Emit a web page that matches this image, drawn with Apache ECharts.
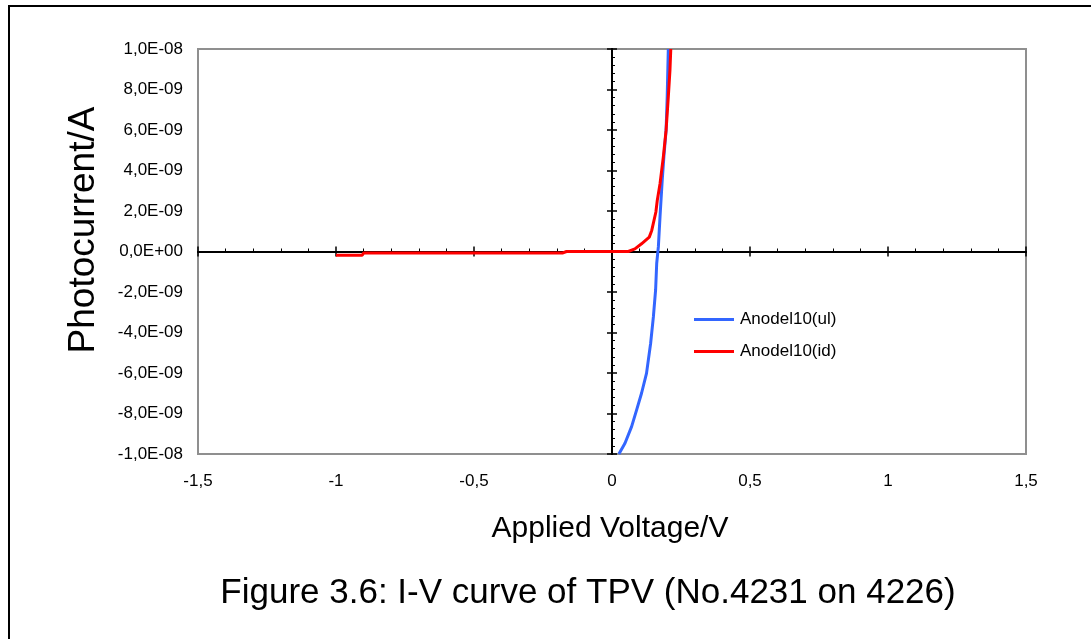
<!DOCTYPE html>
<html>
<head>
<meta charset="utf-8">
<script src="https://cdn.jsdelivr.net/npm/echarts@6/dist/echarts.min.js"></script>
<style>
html,body{margin:0;padding:0;background:#fff;}
#chart{width:1091px;height:639px;}
</style>
</head>
<body>
<div id="chart"></div>
<script>
// ---- data ----
var seriesNames = ['Anodel10(ul)', 'Anodel10(id)'];
// Anodel10(ul): voltage (V) and current (A)
var ulVoltage = [0.025, 0.047, 0.071, 0.089, 0.107, 0.125, 0.140, 0.150, 0.158, 0.162, 0.168, 0.174, 0.182, 0.188, 0.196, 0.200, 0.204];
var ulCurrent = [-1.0e-8, -9.47e-9, -8.65e-9, -7.83e-9, -7.0e-9, -6.02e-9, -4.53e-9, -3.22e-9, -1.90e-9, -0.58e-9, 0.24e-9, 1.72e-9, 3.53e-9, 4.68e-9, 6.0e-9, 7.64e-9, 1.0e-8];
// Anodel10(id): voltage (V) and current (A)
var idVoltage = [-1.0, -0.905, -0.9, -0.18, -0.165, 0.05, 0.059, 0.083, 0.107, 0.135, 0.144, 0.159, 0.164, 0.174, 0.186, 0.196, 0.204, 0.210, 0.213];
var idCurrent = [-0.18e-9, -0.18e-9, -0.08e-9, -0.08e-9, 0.0, 0.0, 0.0, 0.13e-9, 0.38e-9, 0.71e-9, 1.04e-9, 1.95e-9, 2.52e-9, 3.35e-9, 4.67e-9, 5.99e-9, 7.64e-9, 8.96e-9, 1.0e-8];
// axis tick labels
var xTickLabels = ['-1,5', '-1', '-0,5', '0', '0,5', '1', '1,5'];
var yTickLabels = ['-1,0E-08', '-8,0E-09', '-6,0E-09', '-4,0E-09', '-2,0E-09', '0,0E+00', '2,0E-09', '4,0E-09', '6,0E-09', '8,0E-09', '1,0E-08'];
var xMin = -1.5, xMax = 1.5, xStep = 0.5;
var yMin = -1.0e-8, yMax = 1.0e-8, yStep = 2.0e-9;
var xAxisTitle = 'Applied Voltage/V';
var yAxisTitle = 'Photocurrent/A';
var caption = 'Figure 3.6: I-V curve of TPV (No.4231 on 4226)';

// ---- chart ----
var FONT = "'Liberation Sans', Arial, sans-serif";
function pairs(xs, ys) { return xs.map(function (x, i) { return [x, ys[i]]; }); }
function xFmt(v) { return xTickLabels[Math.round((v - xMin) / xStep)]; }
function yFmt(v) { return yTickLabels[Math.round((v - yMin) / yStep)]; }

var chart = echarts.init(document.getElementById('chart'), null, { renderer: 'canvas' });

function baseX(extra) {
  var o = { type: 'value', min: xMin, max: xMax, interval: xStep, position: 'bottom', splitLine: { show: false } };
  for (var k in extra) o[k] = extra[k];
  return o;
}
function baseY(extra) {
  var o = { type: 'value', min: yMin, max: yMax, interval: yStep, position: 'left', splitLine: { show: false } };
  for (var k in extra) o[k] = extra[k];
  return o;
}

var lineIcon = 'path://M0,0 L40,0 L40,3 L0,3 Z';

var option = {
  animation: false,
  backgroundColor: '#ffffff',
  textStyle: { fontFamily: FONT },
  grid: {
    left: 198, top: 49, width: 828, height: 405,
    show: true, borderColor: '#8f8f8f', borderWidth: 2, backgroundColor: 'transparent'
  },
  xAxis: [
    baseX({
      axisLine: { show: false, onZero: false },
      axisTick: { show: false },
      axisLabel: { formatter: xFmt, fontSize: 17, color: '#000', margin: 19, fontFamily: FONT }
    }),
    baseX({
      axisLine: { show: true, onZero: true, onZeroAxisIndex: 0, lineStyle: { color: '#000', width: 2 } },
      axisTick: { show: true, inside: true, length: 5, lineStyle: { color: '#000', width: 1.5 } },
      minorTick: { show: true, splitNumber: 5, length: 3, lineStyle: { color: '#000', width: 1 } },
      axisLabel: { show: false }
    }),
    baseX({
      axisLine: { show: true, onZero: true, onZeroAxisIndex: 0, lineStyle: { color: '#000', width: 2 } },
      axisTick: { show: true, inside: false, length: 5, lineStyle: { color: '#000', width: 1.5 } },
      axisLabel: { show: false }
    })
  ],
  yAxis: [
    baseY({
      axisLine: { show: false, onZero: false },
      axisTick: { show: false },
      axisLabel: { formatter: yFmt, fontSize: 17, color: '#000', margin: 15, fontFamily: FONT }
    }),
    baseY({
      axisLine: { show: true, onZero: true, onZeroAxisIndex: 0, lineStyle: { color: '#000', width: 2 } },
      axisTick: { show: true, inside: true, length: 5, lineStyle: { color: '#000', width: 1.5 } },
      minorTick: { show: true, splitNumber: 5, length: 3, lineStyle: { color: '#000', width: 1 } },
      axisLabel: { show: false }
    }),
    baseY({
      axisLine: { show: true, onZero: true, onZeroAxisIndex: 0, lineStyle: { color: '#000', width: 2 } },
      axisTick: { show: true, inside: false, length: 5, lineStyle: { color: '#000', width: 1.5 } },
      axisLabel: { show: false }
    })
  ],
  legend: {
    orient: 'vertical', left: 694, top: 311, padding: 0,
    itemWidth: 40, itemHeight: 3, itemGap: 15,
    icon: lineIcon,
    textStyle: { fontSize: 17, color: '#000', fontFamily: FONT, padding: [0, 0, 0, 1] },
    data: [{ name: seriesNames[0], icon: lineIcon }, { name: seriesNames[1], icon: lineIcon }]
  },
  series: [
    {
      name: seriesNames[0], type: 'line', xAxisIndex: 0, yAxisIndex: 0,
      data: pairs(ulVoltage, ulCurrent), symbol: 'none', showSymbol: false, clip: true,
      lineStyle: { color: '#3366ff', width: 3 }, itemStyle: { color: '#3366ff' }, z: 3
    },
    {
      name: seriesNames[1], type: 'line', xAxisIndex: 0, yAxisIndex: 0,
      data: pairs(idVoltage, idCurrent), symbol: 'none', showSymbol: false, clip: true,
      lineStyle: { color: '#ff0000', width: 3 }, itemStyle: { color: '#ff0000' }, z: 4
    }
  ],
  graphic: [
    { type: 'rect', x: 9, y: 6, shape: { x: 0, y: 0, width: 1200, height: 800 }, style: { fill: 'none', stroke: '#000', lineWidth: 2 }, silent: true, z: 0 },
    { type: 'text', x: 610, y: 529, style: { text: xAxisTitle, font: '30px ' + FONT, fill: '#000', textAlign: 'center', textVerticalAlign: 'middle' } },
    { type: 'text', x: 84, y: 230, rotation: Math.PI / 2, style: { text: yAxisTitle, font: '37px ' + FONT, fill: '#000', textAlign: 'center', textVerticalAlign: 'middle' } },
    { type: 'text', x: 588, y: 593, style: { text: caption, font: '35px ' + FONT, fill: '#000', textAlign: 'center', textVerticalAlign: 'middle' } }
  ]
};
chart.setOption(option);
</script>
</body>
</html>
